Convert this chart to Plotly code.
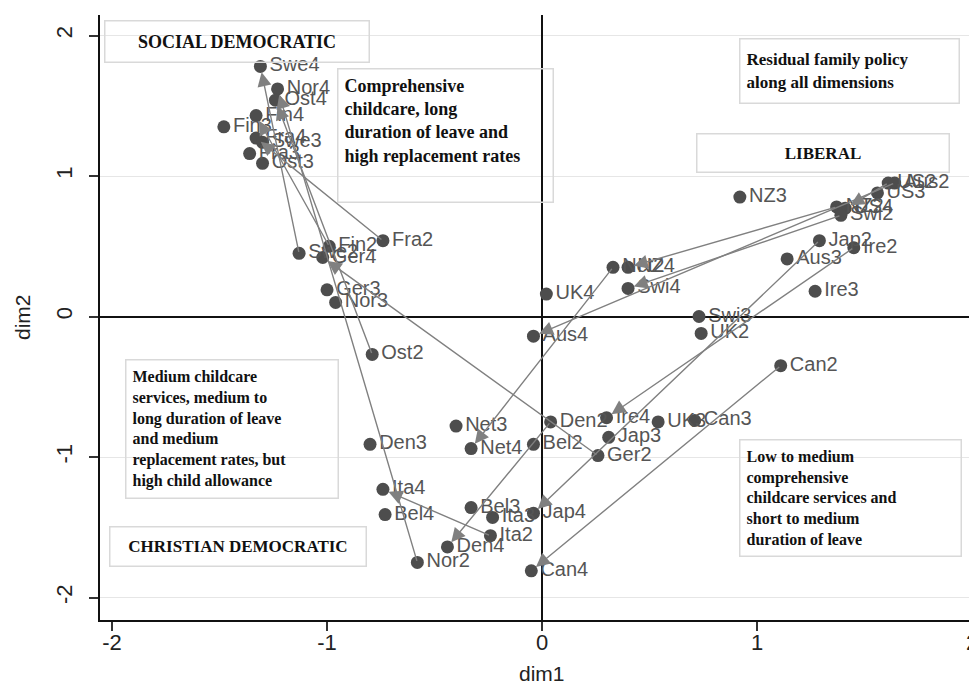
import plotly.graph_objects as go

# ---------------- data ----------------
labels = ["Swe4", "Nor4", "Ost4", "Fin4", "Fin3", "Fra4", "Swe3", "Fra3", "Ost3",
          "Swe2", "Fin2", "Ger4", "Fra2", "Ger3", "Nor3", "Ost2",
          "UK4", "Aus4", "Net2", "NZ4", "Swi4", "Den2", "Ire4", "UK3", "Can3", "Jap3",
          "Net3", "Den3", "Net4", "Bel2", "Ger2", "Ita4", "Bel4", "Bel3", "Ita3", "Jap4",
          "Ita2", "Den4", "Nor2", "Can4",
          "Swi3", "UK2", "Can2", "NZ3", "Jap2", "Ire2", "Aus3", "Ire3",
          "US3", "US2", "Aus2", "NZ2", "US4", "Swi2"]
dim1 = [-1.31, -1.23, -1.24, -1.33, -1.48, -1.33, -1.30, -1.36, -1.30,
        -1.13, -0.99, -1.02, -0.74, -1.00, -0.96, -0.79,
        0.02, -0.04, 0.33, 0.40, 0.40, 0.04, 0.30, 0.54, 0.71, 0.31,
        -0.40, -0.80, -0.33, -0.04, 0.26, -0.74, -0.73, -0.33, -0.23, -0.04,
        -0.24, -0.44, -0.58, -0.05,
        0.73, 0.74, 1.11, 0.92, 1.29, 1.45, 1.14, 1.27,
        1.56, 1.61, 1.64, 1.37, 1.41, 1.39]
dim2 = [1.78, 1.62, 1.54, 1.43, 1.35, 1.27, 1.24, 1.16, 1.09,
        0.45, 0.50, 0.42, 0.54, 0.19, 0.10, -0.27,
        0.16, -0.14, 0.35, 0.35, 0.20, -0.75, -0.72, -0.75, -0.74, -0.86,
        -0.78, -0.91, -0.94, -0.91, -0.99, -1.23, -1.41, -1.36, -1.43, -1.40,
        -1.56, -1.64, -1.75, -1.81,
        0.00, -0.12, -0.35, 0.85, 0.54, 0.49, 0.41, 0.18,
        0.88, 0.95, 0.95, 0.78, 0.77, 0.72]

# arrows: from wave-2 position to wave-4 position
arrow_from = ["Swe2", "Nor2", "Ost2", "Fin2", "Fra2", "Ger2", "Den2", "Net2", "Ita2",
              "Ire2", "Can2", "Jap2", "Swi2", "Aus2", "NZ2", "US2"]
arrow_to = ["Swe4", "Nor4", "Ost4", "Fin4", "Fra4", "Ger4", "Den4", "Net4", "Ita4",
            "Ire4", "Can4", "Jap4", "Swi4", "Aus4", "NZ4", "US4"]

tick_vals = [-2, -1, 0, 1, 2]
tick_text = ["-2", "-1", "0", "1", "2"]

# ---------------- figure ----------------
OFF = 8                      # page body margin offset
W, H = 977 - OFF, 687 - OFF
ML, MR, MT, MB = 100 - OFF, 0, 15 - OFF, 67

fig = go.Figure()
fig.add_trace(go.Scatter(
    x=dim1, y=dim2, mode="markers+text", text=labels,
    textposition="middle right",
    textfont=dict(family="Liberation Sans, Arial", size=20, color="#555555"),
    marker=dict(size=13, color="#4d4d4d"),
    hoverinfo="text", showlegend=False, cliponaxis=False))

pos = {n: (a, b) for n, a, b in zip(labels, dim1, dim2)}
annotations = []
for f, t in zip(arrow_from, arrow_to):
    annotations.append(dict(
        x=pos[t][0], y=pos[t][1], ax=pos[f][0], ay=pos[f][1],
        xref="x", yref="y", axref="x", ayref="y", text="",
        showarrow=True, arrowhead=2, arrowsize=2, arrowwidth=1.4,
        arrowcolor="#808080", standoff=6))

def px_to_paper(px, py):
    fx, fy = px - OFF, py - OFF
    return (fx - ML) / (W - ML - MR), (H - MB - fy) / (H - MT - MB)

def serif(sz):
    return dict(family="Liberation Serif, Times New Roman", size=sz, color="#111111")

boxes = [
    # (left, top, right, bottom, text, align, valign, size)
    (105, 22, 368, 62, "<b>SOCIAL DEMOCRATIC</b>", "center", "middle", 18),
    (338, 70, 552, 202, "<b>Comprehensive<br>childcare, long<br>duration of leave and<br>high replacement rates</b>", "left", "top", 18),
    (740, 40, 958, 103, "<b>Residual family policy<br>along all dimensions</b>", "left", "middle", 17),
    (697, 135, 948, 172, "<b>LIBERAL</b>", "center", "middle", 17),
    (126, 360, 337, 497, "<b>Medium childcare<br>services, medium to<br>long duration of leave<br>and medium<br>replacement rates, but<br>high child allowance</b>", "left", "middle", 16),
    (110, 527, 365, 565, "<b>CHRISTIAN DEMOCRATIC</b>", "center", "middle", 17),
    (740, 440, 960, 555, "<b>Low to medium<br>comprehensive<br>childcare services and<br>short to medium<br>duration of leave</b>", "left", "middle", 16),
]
pad = 6
for l, t, r, b, txt, al, va, sz in boxes:
    cx, cy = px_to_paper((l + r) / 2, (t + b) / 2)
    annotations.append(dict(
        x=cx, y=cy, xref="paper", yref="paper", xanchor="center", yanchor="middle",
        text=txt, showarrow=False, align=al, valign=va,
        width=r - l - 2 * pad, height=b - t - 2 * pad, borderpad=pad,
        bordercolor="#d9d9d9", borderwidth=1.5, font=serif(sz)))

# axis titles
tx, ty = px_to_paper(542, 673)
annotations.append(dict(x=tx, y=ty, xref="paper", yref="paper", xanchor="center", yanchor="middle",
                        text="dim1", showarrow=False,
                        font=dict(family="Liberation Sans, Arial", size=21, color="#222222")))
tx, ty = px_to_paper(22, 317)
annotations.append(dict(x=tx, y=ty, xref="paper", yref="paper", xanchor="center", yanchor="middle",
                        text="dim2", textangle=-90, showarrow=False,
                        font=dict(family="Liberation Sans, Arial", size=21, color="#222222")))

fig.update_layout(
    width=W, height=H, margin=dict(l=ML, r=MR, t=MT, b=MB),
    paper_bgcolor="white", plot_bgcolor="white",
    annotations=annotations,
    xaxis=dict(range=[-2.056, 2.023], tickvals=tick_vals, ticktext=tick_text,
               showgrid=False, zeroline=True, zerolinecolor="#111111", zerolinewidth=1.5,
               showline=True, linecolor="#111111", linewidth=1.5,
               ticks="outside", ticklen=9, tickwidth=1.5, tickcolor="#333333",
               ticklabelstandoff=-7, ticklabeloverflow="allow",
               tickfont=dict(family="Liberation Sans, Arial", size=22, color="#222222"),
               automargin=False),
    yaxis=dict(range=[-2.160, 2.146], tickvals=tick_vals, ticktext=tick_text,
               showgrid=True, gridcolor="#e6e6e6", gridwidth=1,
               zeroline=True, zerolinecolor="#111111", zerolinewidth=1.5,
               showline=True, linecolor="#111111", linewidth=1.5,
               ticks="outside", ticklen=9, tickwidth=1.5, tickcolor="#333333",
               tickangle=-90, ticklabelstandoff=8, ticklabeloverflow="allow",
               tickfont=dict(family="Liberation Sans, Arial", size=22, color="#222222"),
               automargin=False),
)

fig.write_html("out.html")
